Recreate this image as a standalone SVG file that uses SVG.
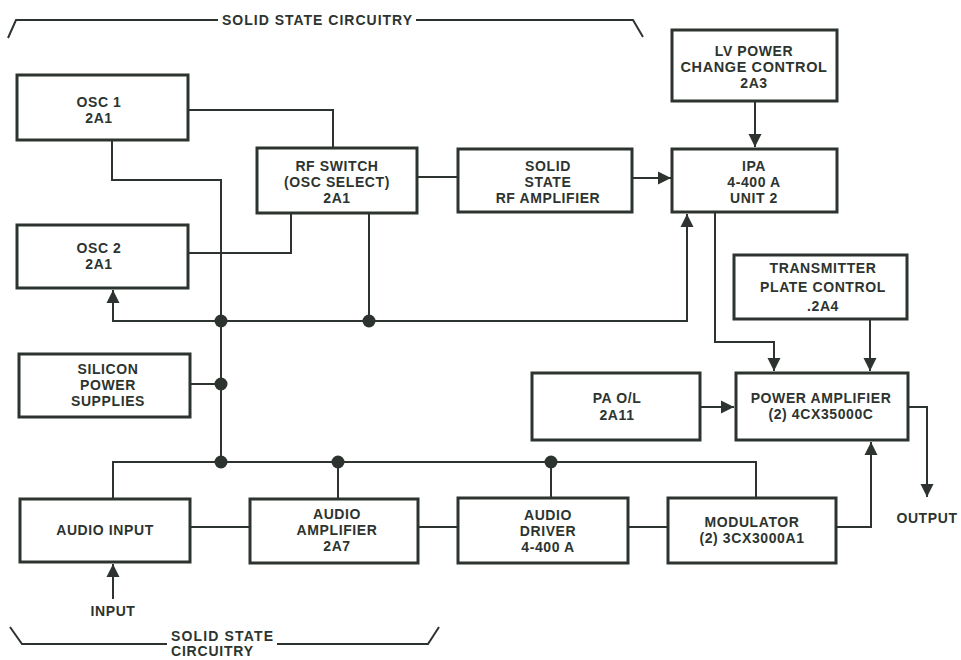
<svg xmlns="http://www.w3.org/2000/svg" width="961" height="660" viewBox="0 0 961 660">
<style>
.box{fill:#fff;stroke:#2d342f;stroke-width:3}
.ln{fill:none;stroke:#2d342f;stroke-width:2}
.t{font-family:"Liberation Sans",Arial,Helvetica,sans-serif;font-weight:bold;font-size:14px;letter-spacing:0.6px;fill:#2d342f;text-anchor:middle}
.tl{font-family:"Liberation Sans",Arial,Helvetica,sans-serif;font-weight:bold;font-size:14px;fill:#2d342f}
.dot{fill:#2d342f}
</style>
<defs>
<marker id="ah" markerUnits="userSpaceOnUse" markerWidth="14" markerHeight="14" viewBox="0 0 14 14" refX="13" refY="7" orient="auto">
<path d="M0,0.5 L13,7 L0,13.5 z" fill="#2d342f"/>
</marker>
</defs>
<rect width="961" height="660" fill="#fff"/>

<g id="brackets">
<path class="ln" d="M8,38 L16,20 H218" stroke-width="2.5"/>
<path class="ln" d="M416,20 H633 L643,37" stroke-width="2.5"/>
<text class="tl" x="222" y="25" textLength="190" lengthAdjust="spacing">SOLID STATE CIRCUITRY</text>
<path class="ln" d="M10,627 L22,644 H167" stroke-width="2.5"/>
<path class="ln" d="M277,644 H428 L439,627" stroke-width="2.5"/>
<text class="tl" x="171" y="641" textLength="102" lengthAdjust="spacing">SOLID STATE</text>
<text class="tl" x="171" y="656" textLength="82" lengthAdjust="spacing">CIRCUITRY</text>
</g>

<g id="connectors">
<path class="ln" d="M188,110 H333 V148"/>
<path class="ln" d="M112,140 V180 H221 V462"/>
<path class="ln" d="M417,177 H458"/>
<path class="ln" d="M291,213 V253 H188"/>
<path class="ln" d="M369,213 V321"/>
<path class="ln" d="M221,321 H113 V290" marker-end="url(#ah)"/>
<path class="ln" d="M221,321 H687 V214" marker-end="url(#ah)"/>
<path class="ln" d="M632,178 H671" marker-end="url(#ah)"/>
<path class="ln" d="M755,101 V147" marker-end="url(#ah)"/>
<path class="ln" d="M715,212 V342 H774 V371" marker-end="url(#ah)"/>
<path class="ln" d="M870,319 V371" marker-end="url(#ah)"/>
<path class="ln" d="M190,384 H221"/>
<path class="ln" d="M113,499 V462 H756 V498"/>
<path class="ln" d="M338,462 V499"/>
<path class="ln" d="M551,462 V498"/>
<path class="ln" d="M190,527 H250"/>
<path class="ln" d="M418,527 H458"/>
<path class="ln" d="M628,527 H668"/>
<path class="ln" d="M836,527 H871 V442" marker-end="url(#ah)"/>
<path class="ln" d="M700,407 H734" marker-end="url(#ah)"/>
<path class="ln" d="M908,407 H927 V497" marker-end="url(#ah)"/>
<path class="ln" d="M113,599 V564" marker-end="url(#ah)"/>
<circle class="dot" cx="221" cy="321" r="6.5"/>
<circle class="dot" cx="369" cy="321" r="6.5"/>
<circle class="dot" cx="221" cy="384" r="6.5"/>
<circle class="dot" cx="221" cy="462" r="6.5"/>
<circle class="dot" cx="338" cy="462" r="6.5"/>
<circle class="dot" cx="551" cy="462" r="6.5"/>
<text class="t" x="113" y="616">INPUT</text>
<text class="t" x="927" y="523">OUTPUT</text>
</g>

<g id="osc1">
<rect class="box" x="17" y="75" width="171" height="65"/>
<text class="t" x="99" y="107">OSC 1</text>
<text class="t" x="99" y="123">2A1</text>
</g>
<g id="osc2">
<rect class="box" x="17" y="225" width="171" height="63"/>
<text class="t" x="99" y="253">OSC 2</text>
<text class="t" x="99" y="269">2A1</text>
</g>
<g id="rfswitch">
<rect class="box" x="257" y="148" width="160" height="65"/>
<text class="t" x="337" y="171">RF SWITCH</text>
<text class="t" x="337" y="187">(OSC SELECT)</text>
<text class="t" x="337" y="203">2A1</text>
</g>
<g id="ssrfamp">
<rect class="box" x="458" y="149" width="174" height="63"/>
<text class="t" x="548" y="171">SOLID</text>
<text class="t" x="548" y="187">STATE</text>
<text class="t" x="548" y="203">RF AMPLIFIER</text>
</g>
<g id="lvpower">
<rect class="box" x="672" y="30" width="165" height="71"/>
<text class="t" x="754" y="56">LV POWER</text>
<text class="t" x="754" y="72" textLength="147" lengthAdjust="spacingAndGlyphs">CHANGE CONTROL</text>
<text class="t" x="754" y="88">2A3</text>
</g>
<g id="ipa">
<rect class="box" x="672" y="149" width="165" height="63"/>
<text class="t" x="754" y="171">IPA</text>
<text class="t" x="754" y="187">4-400 A</text>
<text class="t" x="754" y="203">UNIT 2</text>
</g>
<g id="tpc">
<rect class="box" x="734" y="255" width="173" height="64"/>
<text class="t" x="823" y="273">TRANSMITTER</text>
<text class="t" x="823" y="292">PLATE CONTROL</text>
<text class="t" x="823" y="311">.2A4</text>
</g>
<g id="silicon">
<rect class="box" x="19" y="354" width="171" height="63"/>
<text class="t" x="108" y="374">SILICON</text>
<text class="t" x="108" y="390">POWER</text>
<text class="t" x="108" y="406">SUPPLIES</text>
</g>
<g id="paol">
<rect class="box" x="532" y="373" width="168" height="67"/>
<text class="t" x="617" y="403">PA O/L</text>
<text class="t" x="617" y="420">2A11</text>
</g>
<g id="pa">
<rect class="box" x="736" y="373" width="172" height="67"/>
<text class="t" x="821" y="403">POWER AMPLIFIER</text>
<text class="t" x="821" y="419">(2) 4CX35000C</text>
</g>
<g id="audioinput">
<rect class="box" x="20" y="499" width="170" height="63"/>
<text class="t" x="105" y="535">AUDIO INPUT</text>
</g>
<g id="audioamp">
<rect class="box" x="250" y="499" width="168" height="64"/>
<text class="t" x="337" y="519">AUDIO</text>
<text class="t" x="337" y="535">AMPLIFIER</text>
<text class="t" x="337" y="551">2A7</text>
</g>
<g id="audiodriver">
<rect class="box" x="458" y="498" width="170" height="65"/>
<text class="t" x="548" y="520">AUDIO</text>
<text class="t" x="548" y="536">DRIVER</text>
<text class="t" x="548" y="552">4-400 A</text>
</g>
<g id="modulator">
<rect class="box" x="668" y="498" width="168" height="65"/>
<text class="t" x="752" y="527">MODULATOR</text>
<text class="t" x="752" y="543">(2) 3CX3000A1</text>
</g>
</svg>
